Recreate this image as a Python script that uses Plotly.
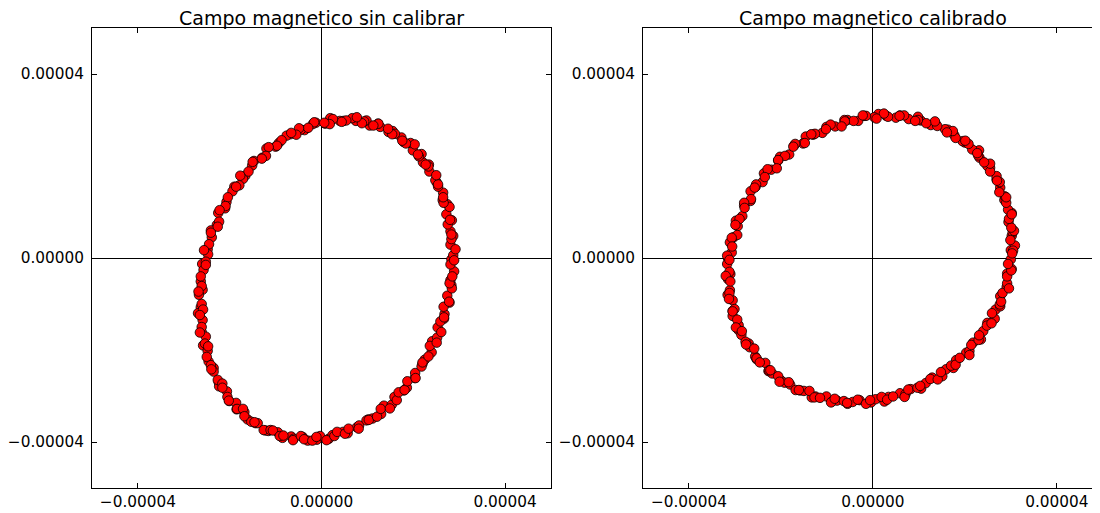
import plotly.graph_objects as go

# Magnetic field readings, in microtesla (uT).
# Two laps of readings per panel.
raw_x_a = [28.9, 28.3, 28.7, 28.1, 28.7, 28.1, 28.4, 27.2, 27.4, 26.4,
           26.5, 25.1, 24.8, 23.5, 23.4, 22.1, 21.8, 19.9, 19.4, 17.9,
           17.4, 15.5, 14.6, 12.8, 12.3, 10.5, 9.8, 7.5, 6.7, 4.8,
           4.0, 1.9, 0.8, -1.2, -1.9, -3.7, -4.5, -6.8, -7.6, -9.3,
           -10.0, -12.0, -12.9, -14.7, -15.1, -16.6, -17.1, -19.0, -19.4, -20.7,
           -21.0, -22.5, -22.8, -24.1, -23.9, -24.8, -24.7, -26.0, -25.7, -26.3,
           -25.9, -26.7, -26.3, -26.9, -25.9, -26.1, -25.2, -25.8, -24.8, -24.6,
           -23.5, -23.5, -22.4, -22.3, -20.6, -20.1, -18.6, -18.5, -16.8, -16.1,
           -14.4, -13.9, -12.2, -11.6, -9.5, -8.5, -6.6, -6.1, -4.1, -3.0,
           -1.0, -0.3, 1.6, 2.4, 4.7, 5.7, 7.7, 8.2, 10.2, 11.1,
           13.0, 13.6, 15.3, 15.9, 17.9, 18.6, 20.3, 20.4, 22.0, 22.5,
           24.0, 24.1, 25.2, 25.3, 26.7, 26.8, 27.9, 27.4, 28.3, 28.1]
raw_y_a = [-2.9, -0.3, 0.6, 2.9, 4.8, 5.8, 8.2, 9.5, 11.7, 12.6,
           14.2, 16.4, 16.9, 18.8, 20.3, 20.8, 22.6, 23.4, 25.0, 25.2,
           26.2, 27.6, 27.4, 28.5, 29.2, 28.8, 29.9, 29.8, 30.4, 29.8,
           29.8, 30.4, 29.2, 29.4, 29.1, 27.8, 27.9, 26.9, 26.6, 25.0,
           24.2, 23.8, 21.8, 21.1, 20.1, 17.9, 17.2, 15.5, 14.5, 12.2,
           10.8, 9.8, 7.2, 6.0, 4.5, 1.9, 0.8, -1.3, -2.6, -5.1,
           -6.9, -8.0, -10.7, -12.0, -13.5, -16.1, -17.1, -19.0, -20.2, -22.5,
           -23.9, -24.7, -27.0, -27.9, -29.0, -31.1, -31.5, -32.9, -33.5, -35.1,
           -35.9, -35.9, -37.5, -37.6, -37.9, -39.1, -38.8, -39.3, -38.9, -39.7,
           -39.5, -38.7, -39.3, -38.5, -37.8, -38.1, -36.8, -36.4, -35.1, -34.9,
           -33.9, -32.1, -31.9, -30.2, -28.8, -28.2, -26.1, -25.0, -23.0, -22.1,
           -20.5, -18.1, -17.3, -15.1, -13.2, -12.2, -9.7, -8.2, -5.9, -4.8]
raw_x_b = [28.1, 28.9, 29.2, 28.3, 28.3, 27.5, 28.0, 27.9, 26.6, 26.5,
           25.4, 25.4, 25.0, 23.3, 22.7, 21.2, 21.0, 20.3, 18.4, 17.6,
           16.0, 15.4, 14.5, 12.4, 11.3, 9.3, 8.8, 7.7, 5.4, 4.4,
           2.5, 1.8, 0.6, -1.6, -2.9, -4.9, -5.5, -6.6, -8.7, -9.7,
           -11.5, -12.1, -13.0, -15.0, -15.9, -17.7, -17.9, -18.6, -20.4, -20.9,
           -22.2, -22.3, -22.6, -24.1, -24.5, -25.6, -25.2, -25.2, -26.3, -26.1,
           -26.8, -26.1, -25.8, -26.5, -26.1, -26.5, -25.4, -24.7, -25.0, -24.1,
           -24.0, -22.6, -21.6, -21.6, -20.5, -20.2, -18.4, -17.1, -16.8, -15.3,
           -14.6, -12.6, -11.1, -10.6, -9.1, -8.3, -6.2, -4.5, -3.8, -2.0,
           -1.1, 1.1, 2.8, 3.4, 5.1, 5.9, 8.1, 9.8, 10.3, 12.1,
           12.9, 14.9, 16.4, 16.8, 18.1, 18.7, 20.5, 21.8, 22.0, 23.3,
           23.6, 25.1, 26.1, 25.9, 26.7, 26.6, 27.8, 28.4, 27.9, 28.5]
raw_y_b = [-1.4, -0.5, 1.9, 4.1, 5.1, 7.3, 8.3, 11.1, 12.0, 13.2,
           15.5, 16.0, 18.0, 19.9, 20.3, 22.1, 22.5, 24.7, 24.9, 25.5,
           27.0, 26.9, 28.1, 29.2, 28.8, 29.7, 29.3, 30.6, 29.9, 29.6,
           30.2, 29.1, 29.4, 29.5, 28.3, 28.2, 26.8, 27.2, 25.6, 24.4,
           24.1, 22.2, 21.6, 20.9, 18.8, 17.9, 15.8, 15.5, 13.2, 11.3,
           10.4, 7.9, 6.8, 5.5, 3.0, 1.7, -0.8, -1.5, -4.0, -6.1,
           -7.3, -10.0, -11.2, -12.4, -15.0, -16.2, -18.6, -19.2, -21.5, -23.3,
           -24.2, -26.5, -27.3, -28.2, -30.2, -31.0, -32.8, -32.8, -34.4, -35.6,
           -35.7, -37.4, -37.4, -37.5, -38.7, -38.6, -39.6, -38.7, -39.4, -39.7,
           -38.9, -39.6, -38.7, -37.8, -38.2, -37.1, -37.1, -35.3, -35.2, -34.5,
           -32.8, -32.7, -30.9, -29.2, -28.7, -26.8, -26.1, -23.6, -22.7, -21.4,
           -19.1, -18.4, -16.1, -13.8, -12.9, -10.6, -9.5, -6.6, -5.5, -4.0]

cal_x_a = [30.0, 30.9, 30.2, 30.4, 29.5, 30.2, 29.4, 28.6, 28.7, 27.7,
           26.9, 26.9, 25.5, 24.9, 23.2, 23.1, 21.6, 20.0, 19.5, 17.7,
           16.3, 15.7, 13.7, 12.6, 10.4, 9.8, 7.8, 5.9, 5.0, 2.9,
           1.2, 0.3, -1.9, -3.2, -5.5, -6.2, -8.2, -10.1, -11.0, -13.0,
           -14.6, -15.2, -17.2, -18.2, -20.2, -20.6, -22.1, -23.7, -24.0, -25.5,
           -26.6, -26.6, -28.0, -28.4, -29.8, -29.4, -30.3, -31.1, -30.7, -31.5,
           -31.7, -31.0, -31.5, -31.1, -31.6, -30.5, -30.5, -30.5, -29.2, -29.2,
           -28.6, -27.0, -26.8, -25.6, -25.3, -23.4, -22.7, -21.9, -20.0, -19.2,
           -18.0, -15.8, -15.0, -13.3, -12.5, -10.1, -8.9, -7.8, -5.5, -4.4,
           -2.9, -0.4, 0.6, 2.5, 3.4, 5.9, 7.1, 8.2, 10.5, 11.5,
           12.9, 15.1, 15.9, 17.5, 18.1, 20.3, 21.0, 21.8, 23.5, 24.0,
           24.9, 26.5, 26.7, 27.7, 27.7, 29.1, 29.2, 29.2, 30.2, 30.0]
cal_y_a = [1.7, 2.7, 4.8, 5.6, 7.8, 9.8, 10.5, 12.6, 13.4, 15.3,
           17.1, 17.8, 19.6, 20.0, 21.8, 23.4, 23.6, 25.1, 25.4, 26.7,
           27.9, 28.0, 29.1, 28.9, 29.9, 30.7, 30.2, 31.0, 30.5, 30.9,
           31.3, 30.6, 30.9, 29.8, 30.0, 30.0, 28.6, 28.5, 27.2, 26.8,
           26.4, 24.9, 24.4, 22.5, 22.0, 21.2, 19.2, 18.4, 16.5, 15.5,
           14.5, 12.4, 11.4, 9.1, 8.1, 6.9, 4.5, 3.4, 1.2, -0.1,
           -1.3, -3.5, -4.6, -7.0, -8.0, -9.2, -11.5, -12.6, -14.6, -15.7,
           -16.7, -18.6, -19.4, -21.4, -22.0, -22.8, -24.6, -25.1, -26.6, -27.1,
           -27.5, -28.8, -28.9, -30.3, -30.1, -30.1, -31.2, -31.0, -31.7, -31.3,
           -30.9, -31.4, -30.7, -31.2, -30.2, -29.4, -29.6, -28.5, -28.4, -27.2,
           -26.0, -25.7, -24.2, -23.9, -22.2, -20.6, -20.2, -18.4, -17.7, -15.9,
           -14.1, -13.2, -11.2, -10.5, -8.3, -6.3, -5.5, -3.4, -2.4, -0.3]
cal_x_b = [30.5, 29.9, 30.7, 30.1, 29.6, 30.2, 29.0, 29.0, 27.5, 27.6,
           27.0, 25.5, 25.5, 24.2, 22.9, 22.7, 20.8, 20.1, 18.0, 17.4,
           16.1, 14.0, 13.5, 11.6, 9.8, 9.2, 6.8, 5.8, 3.3, 2.4,
           0.8, -1.5, -2.2, -4.2, -6.1, -6.8, -9.2, -10.2, -12.6, -13.4,
           -14.8, -16.9, -17.3, -19.1, -20.6, -20.9, -22.9, -23.5, -25.4, -25.7,
           -26.5, -28.0, -27.9, -29.0, -29.9, -29.5, -30.7, -30.6, -31.7, -31.2,
           -31.2, -32.0, -31.0, -31.2, -31.3, -30.1, -30.5, -29.5, -29.8, -28.5,
           -27.7, -27.6, -25.8, -25.3, -24.6, -22.6, -22.3, -20.6, -20.3, -18.3,
           -16.8, -16.1, -13.8, -12.7, -11.5, -9.1, -8.3, -6.3, -5.6, -3.3,
           -1.5, -0.6, 1.9, 3.1, 4.4, 6.9, 7.7, 9.7, 10.3, 12.5,
           14.1, 14.8, 17.0, 18.0, 18.9, 21.0, 21.4, 23.0, 23.1, 24.8,
           25.8, 25.9, 27.6, 27.9, 28.2, 29.6, 29.2, 30.1, 29.4, 30.3]
cal_y_b = [1.6, 3.9, 5.9, 6.6, 8.5, 9.5, 12.0, 13.2, 14.3, 16.5,
           16.8, 18.8, 20.5, 20.8, 22.3, 22.8, 24.8, 25.5, 26.1, 27.6,
           27.3, 28.7, 29.7, 29.3, 30.0, 29.8, 31.0, 30.9, 30.7, 31.4,
           30.3, 30.9, 31.0, 29.8, 29.7, 28.6, 29.0, 28.0, 27.0, 26.9,
           25.0, 24.8, 24.2, 22.2, 21.3, 19.5, 19.3, 17.6, 16.0, 15.3,
           12.8, 12.0, 10.9, 8.5, 7.2, 5.0, 4.4, 2.5, 0.5, -0.4,
           -3.0, -3.9, -5.1, -7.6, -8.9, -11.1, -11.6, -13.4, -15.1, -15.9,
           -18.2, -18.8, -19.7, -21.8, -22.7, -24.4, -24.4, -25.7, -26.9, -27.0,
           -28.7, -28.7, -28.9, -30.3, -30.4, -31.4, -30.6, -31.1, -31.5, -30.8,
           -31.7, -30.9, -30.2, -30.8, -30.1, -30.2, -28.6, -28.2, -27.8, -26.3,
           -26.4, -24.8, -23.4, -23.2, -21.7, -21.1, -18.9, -17.8, -16.8, -14.7,
           -14.2, -12.0, -10.1, -9.5, -7.6, -6.6, -4.0, -2.7, -1.3, 1.0]

raw_x = raw_x_a + raw_x_b
raw_y = raw_y_a + raw_y_b
cal_x = cal_x_a + cal_x_b
cal_y = cal_y_a + cal_y_b

titles = ["Campo magnetico sin calibrar", "Campo magnetico calibrado"]
tick_vals = [-0.00004, 0.0, 0.00004]
tick_text = ["\u22120.00004", "0.00000", "0.00004"]

UT = 1e-6  # microtesla -> tesla

# page is shown with an 8px body margin, so the figure is 8px smaller
W, H = 1092, 505
L, R, T, B = 84, 0, 20, 25
pw = W - L - R
d1 = [0.0, 459 / pw]
d2 = [551 / pw, 1.0]

fig = go.Figure()
marker = dict(color="#ff0000", size=9.5, line=dict(color="black", width=0.8))
fig.add_trace(go.Scatter(x=[v * UT for v in raw_x], y=[v * UT for v in raw_y],
                         mode="markers", marker=marker, xaxis="x", yaxis="y",
                         showlegend=False, hoverinfo="skip"))
fig.add_trace(go.Scatter(x=[v * UT for v in cal_x], y=[v * UT for v in cal_y],
                         mode="markers", marker=marker, xaxis="x2", yaxis="y2",
                         showlegend=False, hoverinfo="skip"))

font = dict(family="DejaVu Sans", size=15.3, color="black")
common = dict(showgrid=False, zeroline=True, zerolinecolor="black", zerolinewidth=1,
              showline=True, linecolor="black", linewidth=1, mirror="ticks",
              ticks="inside", ticklen=5, tickwidth=1, tickcolor="black",
              tickvals=tick_vals, ticktext=tick_text, tickfont=font)

title_font = dict(family="DejaVu Sans", size=19, color="black")
fig.update_layout(
    width=W, height=H,
    margin=dict(l=L, r=R, t=T, b=B),
    paper_bgcolor="white", plot_bgcolor="white",
    xaxis=dict(domain=d1, range=[-0.00005, 0.00005], anchor="y", **common),
    yaxis=dict(domain=[0, 1], range=[-0.00005, 0.00005], anchor="x",
               ticklabelstandoff=4, **common),
    xaxis2=dict(domain=d2, range=[-0.00005, 0.0000494], anchor="y2", **common),
    yaxis2=dict(domain=[0, 1], range=[-0.00005, 0.00005], anchor="x2",
                ticklabelstandoff=4, **common),
    annotations=[
        dict(text=titles[0], x=(d1[0] + d1[1]) / 2, y=1, xref="paper", yref="paper",
             xanchor="center", yanchor="bottom", showarrow=False, yshift=-3,
             font=title_font),
        dict(text=titles[1], x=(865 - L) / pw, y=1, xref="paper", yref="paper",
             xanchor="center", yanchor="bottom", showarrow=False, yshift=-3,
             font=title_font),
    ],
)

fig.write_html("out.html")
